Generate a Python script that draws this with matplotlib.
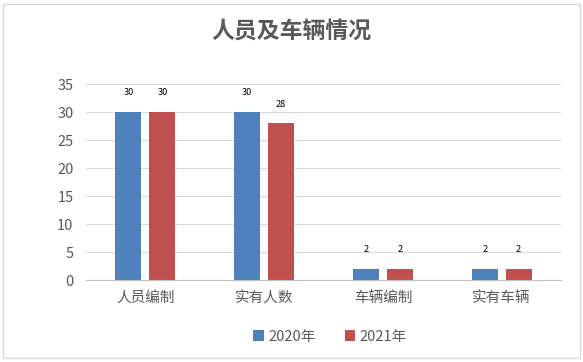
import matplotlib.pyplot as plt
from matplotlib.patches import Rectangle
import numpy as np

plt.rcParams['font.family'] = ['Noto Sans CJK SC', 'DejaVu Sans']

categories = ["人员编制", "实有人数", "车辆编制", "实有车辆"]
values_2020 = [30, 30, 2, 2]
values_2021 = [30, 28, 2, 2]
series_names = ["2020年", "2021年"]

fig = plt.figure(figsize=(5.83, 3.62), dpi=100)
fig.patches.append(Rectangle((0.006, 0.01), 0.988, 0.98, transform=fig.transFigure,
                             fill=False, edgecolor="#d9d9d9", linewidth=1))
ax = fig.add_axes([0.1475, 0.2265, 0.8148, 0.5414])

x = np.arange(len(categories))
w = 0.22
b1 = ax.bar(x - 0.143, values_2020, w, color="#4F81BD", label=series_names[0])
b2 = ax.bar(x + 0.143, values_2021, w, color="#C0504D", label=series_names[1])

for bars in (b1, b2):
    for r in bars:
        ax.text(r.get_x() + r.get_width() / 2, r.get_height() + 3.4, f"{r.get_height():g}",
                ha="center", va="center", fontsize=6.5, color="black")

ax.set_xlim(-0.5, 3.5)
ax.set_ylim(0, 35)
ax.set_yticks(range(0, 36, 5))
ax.set_xticks(x)
ax.set_xticklabels(categories)
ax.grid(axis="y", color="#d9d9d9", linewidth=0.8)
ax.set_axisbelow(True)
for s in ["top", "right", "left"]:
    ax.spines[s].set_visible(False)
ax.spines["bottom"].set_color("#bfbfbf")
ax.tick_params(axis="y", length=0, labelsize=10.5, colors="#595959", pad=9)
ax.tick_params(axis="x", length=0, labelsize=10.5, colors="#595959", pad=8)

fig.text(0.5, 0.915, "人员及车辆情况", ha="center", va="center", fontsize=16.5,
         fontweight="bold", color="#595959")
fig.legend(loc="center", bbox_to_anchor=(0.566, 0.07), ncol=2, frameon=False,
           fontsize=10.5, handlelength=0.7, handleheight=0.7, handletextpad=0.3,
           columnspacing=2.0, labelcolor="#595959")

fig.savefig("out.png", dpi=100)
